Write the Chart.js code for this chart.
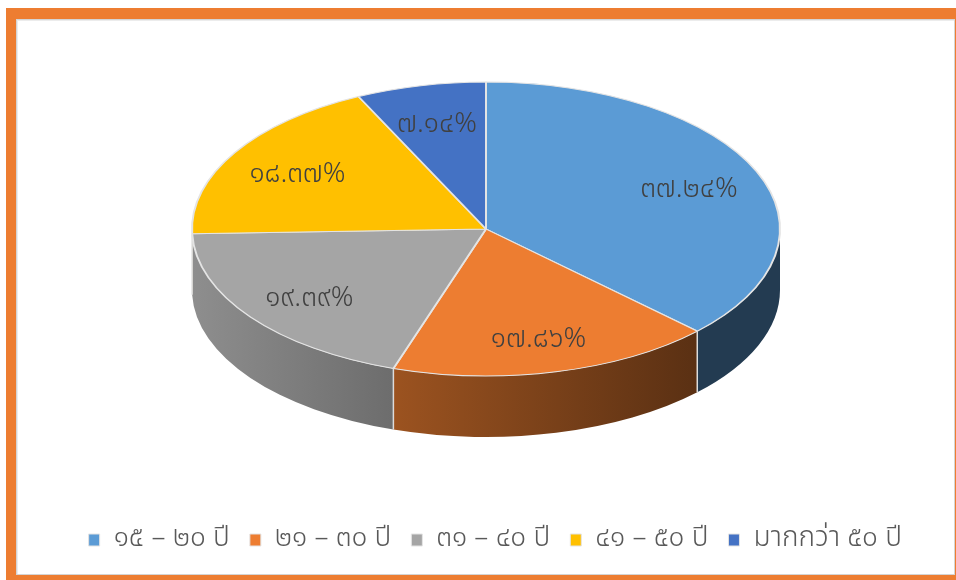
<!DOCTYPE html>
<html lang="th">
<head>
<meta charset="utf-8">
<title>ช่วงอายุ</title>
<script src="https://cdn.jsdelivr.net/npm/chart.js@4.4.1/dist/chart.umd.min.js"></script>
<style>
  html, body { margin: 0; padding: 0; width: 956px; height: 580px; overflow: hidden; background: #fff; }
  .frame { position: absolute; left: 6px; top: 8px; width: 950px; height: 572px; background: #ed7d31; }
  .sheet { position: absolute; left: 16px; top: 19px; width: 939px; height: 556px; box-sizing: border-box;
           background: #fff; border: 1px solid #d4d4d4; box-shadow: inset 1px 1px 0 #ececec; }
  /* the canvas starts above the window so the pie sits high above the legend */
  #chartWrap { position: absolute; left: 0; top: -48px; width: 956px; height: 628px; }
</style>
</head>
<body>
<div class="frame"></div>
<div class="sheet"></div>
<div id="chartWrap"><canvas id="ageChart"></canvas></div>
<script>
// Age groups and their share of respondents (percent)
const ageGroups = ['๑๕ – ๒๐ ปี', '๒๑ – ๓๐ ปี', '๓๑ – ๔๐ ปี', '๔๑ – ๕๐ ปี', 'มากกว่า ๕๐ ปี'];
const percentShares = [37.24, 17.86, 19.39, 18.37, 7.14];
const sliceColors = ['#5b9bd5', '#ed7d31', '#a5a5a5', '#ffc000', '#4472c4'];

const FONT = "Tahoma, 'Leelawadee UI', 'Noto Sans Thai', 'Noto Sans', sans-serif";
const STRETCH = 2;   // horizontal stretch that turns the round pie into a tilted disc
const DEPTH = 61;    // thickness of the disc
// brightness of the side wall from left to right
const wallStops = [[0, 0.86], [0.34, 0.66], [0.86, 0.38], [1, 0.38]];

const thaiDigits = ['๐', '๑', '๒', '๓', '๔', '๕', '๖', '๗', '๘', '๙'];
function toThaiNumber(str) {
    return str.replace(/[0-9]/g, d => thaiDigits[d]);
}

function shade(hex, k) {
    const n = parseInt(hex.slice(1), 16);
    const r = Math.round(((n >> 16) & 255) * k);
    const g = Math.round(((n >> 8) & 255) * k);
    const b = Math.round((n & 255) * k);
    return `rgb(${r},${g},${b})`;
}

// Draws the side wall under the pie, stretches the top face and writes the percentages
const pie3d = {
    id: 'pie3d',
    beforeDatasetsDraw(chart) {
        const ctx = chart.ctx;
        const arcs = chart.getDatasetMeta(0).data;
        ctx.save();
        if (!arcs.length) return;
        const { x: cx, y: cy, outerRadius: r } = arcs[0];
        const rx = r * STRETCH, ry = r;

        arcs.forEach((arc, i) => {
            const s = Math.max(arc.startAngle, 0);
            const e = Math.min(arc.endAngle, Math.PI);
            if (e <= s) return;
            const grad = ctx.createLinearGradient(cx - rx, 0, cx + rx, 0);
            wallStops.forEach(([t, k]) => grad.addColorStop(t, shade(sliceColors[i], k)));
            ctx.beginPath();
            ctx.ellipse(cx, cy, rx, ry, 0, s, e);
            ctx.ellipse(cx, cy + DEPTH, rx, ry, 0, e, s, true);
            ctx.closePath();
            ctx.fillStyle = grad;
            ctx.fill();
        });

        // seams between the slices on the wall
        ctx.strokeStyle = '#dcdcdc';
        ctx.lineWidth = 1.5;
        arcs.forEach(arc => {
            const a = arc.startAngle;
            if (a <= 0 || a >= Math.PI) return;
            const x = cx + rx * Math.cos(a), y = cy + ry * Math.sin(a);
            ctx.beginPath();
            ctx.moveTo(x, y);
            ctx.lineTo(x, y + DEPTH);
            ctx.stroke();
        });

        ctx.translate(cx, 0);
        ctx.scale(STRETCH, 1);
        ctx.translate(-cx, 0);
    },
    afterDatasetsDraw(chart) {
        const ctx = chart.ctx;
        ctx.restore();
        const arcs = chart.getDatasetMeta(0).data;
        if (!arcs.length) return;
        const { x: cx, y: cy, outerRadius: r } = arcs[0];

        ctx.save();
        ctx.font = '300 28px ' + FONT;
        ctx.fillStyle = '#404040';
        ctx.textAlign = 'center';
        ctx.textBaseline = 'middle';
        arcs.forEach((arc, i) => {
            const mid = (arc.startAngle + arc.endAngle) / 2;
            const x = cx + STRETCH * r * 0.75 * Math.cos(mid);
            const y = cy + r * 0.75 * Math.sin(mid) + 5;
            ctx.fillText(toThaiNumber(percentShares[i].toFixed(2)) + '%', x, y);
        });
        ctx.restore();
    }
};

new Chart(document.getElementById('ageChart'), {
    type: 'pie',
    data: {
        labels: ageGroups,
        datasets: [{
            data: percentShares,
            backgroundColor: sliceColors,
            borderColor: '#e4e4e4',
            borderWidth: 1,
            radius: 147
        }]
    },
    options: {
        responsive: true,
        maintainAspectRatio: false,
        animation: false,
        layout: { padding: { top: 0, bottom: 16, left: 50, right: 34 } },
        plugins: {
            legend: {
                position: 'bottom',
                align: 'end',
                labels: {
                    boxWidth: 11,
                    boxHeight: 12,
                    padding: 20,
                    color: '#595959',
                    font: { size: 28, weight: 300, family: FONT }
                }
            },
            tooltip: { enabled: false }
        }
    },
    plugins: [pie3d]
});
</script>
</body>
</html>
